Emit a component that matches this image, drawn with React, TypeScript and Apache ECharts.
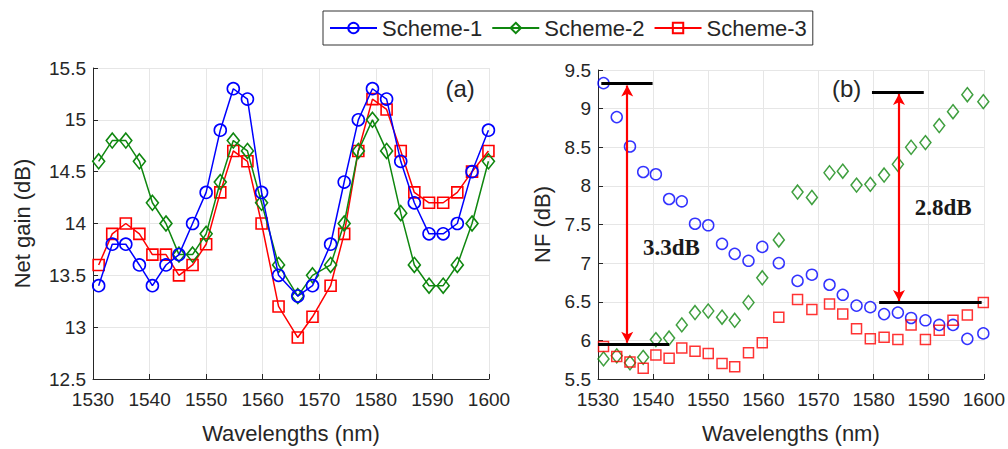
import React, { useEffect, useRef } from "react";
import * as echarts from "echarts";

const wavelengths = [1531, 1533.4, 1535.8, 1538.2, 1540.5, 1542.9, 1545.2, 1547.6, 1550, 1552.5, 1554.8, 1557.3, 1559.8, 1562.8, 1566.2, 1568.8, 1572, 1574.4, 1576.9, 1579.4, 1581.9, 1584.4, 1586.8, 1589.4, 1591.9, 1594.4, 1597, 1599.9];

const gain1 = [13.4, 13.8, 13.8, 13.6, 13.4, 13.6, 13.7, 14.0, 14.3, 14.9, 15.3, 15.2, 14.3, 13.5, 13.3, 13.4, 13.8, 14.4, 15.0, 15.3, 15.2, 14.6, 14.2, 13.9, 13.9, 14.0, 14.5, 14.9];
const gain2 = [14.6, 14.8, 14.8, 14.6, 14.2, 14.0, 13.7, 13.7, 13.9, 14.4, 14.8, 14.7, 14.2, 13.6, 13.3, 13.5, 13.6, 14.0, 14.7, 15.0, 14.7, 14.1, 13.6, 13.4, 13.4, 13.6, 14.0, 14.6];
const gain3 = [13.6, 13.9, 14.0, 13.9, 13.7, 13.7, 13.5, 13.6, 13.8, 14.3, 14.7, 14.6, 14.0, 13.2, 12.9, 13.1, 13.4, 13.9, 14.7, 15.2, 15.1, 14.7, 14.3, 14.2, 14.2, 14.3, 14.5, 14.7];

const nf1 = [9.33, 8.89, 8.51, 8.18, 8.15, 7.83, 7.8, 7.51, 7.49, 7.25, 7.12, 7.03, 7.21, 7.0, 6.77, 6.85, 6.72, 6.59, 6.45, 6.43, 6.34, 6.36, 6.29, 6.26, 6.2, 6.2, 6.02, 6.09];
const nf2 = [5.76, 5.8, 5.71, 5.78, 6.01, 6.03, 6.2, 6.36, 6.38, 6.3, 6.26, 6.49, 6.81, 7.3, 7.92, 7.85, 8.17, 8.19, 8.01, 8.02, 8.14, 8.28, 8.5, 8.56, 8.78, 8.96, 9.18, 9.09];
const nf3 = [5.92, 5.79, 5.72, 5.64, 5.81, 5.77, 5.9, 5.86, 5.83, 5.7, 5.66, 5.84, 5.97, 6.3, 6.53, 6.4, 6.47, 6.34, 6.15, 6.02, 6.04, 6.01, 6.2, 6.01, 6.13, 6.26, 6.33, 6.49];

const seriesNames = ["Scheme-1", "Scheme-2", "Scheme-3"];

// annotation lines in data coordinates of panel (b)
const levelLines = [
  { x1: 1530.6, x2: 1539.9, y: 9.33 },
  { x1: 1530, x2: 1542.9, y: 5.95 },
  { x1: 1579.7, x2: 1589.1, y: 9.21 },
  { x1: 1581, x2: 1599.6, y: 6.49 },
];
const arrows = [
  { x: 1535.3, y1: 9.3, y2: 5.97 },
  { x: 1584.6, y1: 9.19, y2: 6.51 },
];
const diffLabels = [
  { text: "3.3dB", x: 1543.3, y: 7.2 },
  { text: "2.8dB", x: 1592.6, y: 7.72 },
];

const zip = (xs: number[], ys: number[]) => xs.map((x, i) => [x, ys[i]]);

export default function App() {
  const ref = useRef<HTMLDivElement>(null);
  useEffect(() => {
    document.body.style.margin = "0";
    if (!ref.current) return;
    const chart = echarts.init(ref.current, null, { renderer: "svg" });
    const sans = "Liberation Sans, Arial, sans-serif";
    const txt = "#262626";
    const colors = ["#0000ff", "#0f870f", "#ff0000"];
    const symbolsL = ["circle", "diamond", "rect"];
    const sizesL: any[] = [12, [12, 15], 11];
    const sizesR: any[] = [11, [11, 14], 10];

    const xAxisBase = (gridIndex: number) => ({
      type: "value",
      gridIndex,
      min: 1530,
      max: 1600,
      interval: 10,
      name: "Wavelengths (nm)",
      nameLocation: "middle",
      nameGap: 43,
      nameTextStyle: { fontFamily: sans, fontSize: 22, color: txt },
      axisLine: { show: true, lineStyle: { color: txt, width: 1 } },
      axisTick: { show: true, inside: true, length: 5, lineStyle: { color: txt } },
      axisLabel: { fontFamily: sans, fontSize: 19, color: txt, margin: 11, formatter: (v: number) => String(v) },
      splitLine: { show: true, lineStyle: { color: "#e6e6e6", width: 1 } },
    });
    const yAxisBase = (gridIndex: number, min: number, max: number, name: string, gap: number) => ({
      type: "value",
      gridIndex,
      min,
      max,
      interval: 0.5,
      name,
      nameLocation: "middle",
      nameGap: gap,
      nameTextStyle: { fontFamily: sans, fontSize: 22, color: txt },
      axisLine: { show: true, lineStyle: { color: txt, width: 1 } },
      axisTick: { show: true, inside: true, length: 5, lineStyle: { color: txt } },
      axisLabel: { fontFamily: sans, fontSize: 19, color: txt, margin: 7, formatter: (v: number) => String(v) },
      splitLine: { show: true, lineStyle: { color: "#e6e6e6", width: 1 } },
    });

    const gains = [gain1, gain2, gain3];
    const nfs = [nf1, nf2, nf3];

    const leftSeries = gains.map((g, i) => ({
      type: "line",
      name: seriesNames[i],
      xAxisIndex: 0,
      yAxisIndex: 0,
      data: zip(wavelengths, g),
      symbol: symbolsL[i],
      symbolSize: sizesL[i],
      showAllSymbol: true,
      color: colors[i],
      lineStyle: { color: colors[i], width: 1.5 },
      itemStyle: { color: "rgba(255,255,255,0)", borderColor: colors[i], borderWidth: 1.6 },
      z: 3 - i + 2,
      markPoint:
        i === 0
          ? {
              symbol: "circle",
              symbolSize: 0,
              data: [
                {
                  coord: [1594.9, 15.3],
                  label: { show: true, position: "inside", formatter: "(a)", fontFamily: sans, fontSize: 24, color: txt },
                },
              ],
            }
          : undefined,
    }));

    const rightSeries = nfs.map((g, i) => ({
      type: "scatter",
      name: seriesNames[i],
      xAxisIndex: 1,
      yAxisIndex: 1,
      data: zip(wavelengths, g),
      symbol: symbolsL[i],
      symbolSize: sizesR[i],
      itemStyle: { color: "rgba(255,255,255,0)", borderColor: colors[i], borderWidth: 1.5 },
      z: 3,
    }));

    const annotationSeries = {
      type: "scatter",
      name: "annot",
      xAxisIndex: 1,
      yAxisIndex: 1,
      data: [],
      z: 6,
      markLine: {
        silent: true,
        animation: false,
        label: { show: false },
        data: [
          ...levelLines.map((l) => [
            { coord: [l.x1, l.y], symbol: "none", lineStyle: { color: "#000", width: 3, type: "solid" } },
            { coord: [l.x2, l.y], symbol: "none" },
          ]),
          ...arrows.map((a) => [
            { coord: [a.x, a.y1], symbol: "arrow", symbolSize: [9, 11], lineStyle: { color: "#ff0000", width: 2.2, type: "solid" } },
            { coord: [a.x, a.y2], symbol: "arrow", symbolSize: [9, 11] },
          ]),
        ],
      },
      markPoint: {
        symbol: "circle",
        symbolSize: 0,
        data: [
          ...diffLabels.map((d) => ({
            coord: [d.x, d.y],
            label: {
              show: true,
              position: "inside",
              formatter: d.text,
              fontFamily: "Liberation Serif, Times New Roman, serif",
              fontWeight: "bold",
              fontSize: 23,
              color: "#1a1a1a",
            },
          })),
          {
            coord: [1575.1, 9.26],
            label: { show: true, position: "inside", formatter: "(b)", fontFamily: sans, fontSize: 24, color: txt },
          },
        ],
      },
    };

    chart.setOption({
      animation: false,
      backgroundColor: "#ffffff",
      legend: {
        data: seriesNames,
        left: 323,
        top: 11,
        orient: "horizontal",
        itemWidth: 47,
        itemHeight: 13,
        itemGap: 9,
        padding: [6, 6],
        borderColor: "#333",
        borderWidth: 1,
        backgroundColor: "#fff",
        textStyle: { fontFamily: sans, fontSize: 22, color: txt },
      },
      grid: [
        { left: 93, top: 68, right: 1008 - 489, bottom: 449 - 384, containLabel: false },
        { left: 598, top: 70, right: 1008 - 984, bottom: 449 - 379, containLabel: false },
      ],
      xAxis: [xAxisBase(0), xAxisBase(1)],
      yAxis: [
        yAxisBase(0, 12.5, 15.5, "Net gain (dB)", 60),
        yAxisBase(1, 5.5, 9.5, "NF (dB)", 45),
      ],
      series: [...leftSeries, ...rightSeries, annotationSeries],
    });
    return () => chart.dispose();
  }, []);
  return <div ref={ref} style={{ width: 1008, height: 449 }} />;
}
